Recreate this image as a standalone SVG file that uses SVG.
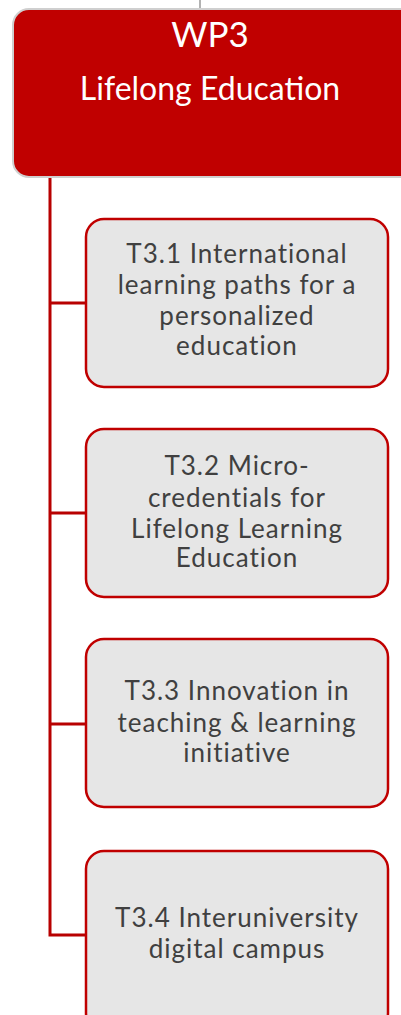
<svg xmlns="http://www.w3.org/2000/svg" width="401" height="1015" viewBox="0 0 401 1015">
<style>
.task rect{fill:#e6e6e6;stroke:#c00000;stroke-width:2.5}
.task text{font-family:Lato,"Open Sans",sans-serif;font-size:26px;letter-spacing:1px;fill:#404040;text-anchor:middle}
.conn{stroke:#b80000;stroke-width:3;fill:none}
.hdr text{font-family:Lato,"Open Sans",sans-serif;fill:#ffffff;text-anchor:middle}
</style>
<rect width="401" height="1015" fill="#ffffff"/>
<g id="connectors">
<line x1="200" y1="0" x2="200" y2="10" stroke="#999" stroke-width="1.5"/>
<polyline class="conn" points="50,177 50,935 86,935"/>
<line class="conn" x1="50" y1="303" x2="86" y2="303"/>
<line class="conn" x1="50" y1="513" x2="86" y2="513"/>
<line class="conn" x1="50" y1="724" x2="86" y2="724"/>
</g>
<g id="wp3" class="hdr">
<rect x="13" y="9" width="410" height="168" rx="16" fill="#c00000" stroke="#cfcfcf" stroke-width="2"/>
<text x="210" y="47" font-size="35">WP3</text>
<text x="210" y="100" font-size="32">Lifelong Education</text>
</g>
<g id="t31" class="task">
<rect x="86" y="219" width="302" height="168" rx="18"/>
<text x="237" y="263">T3.1 International</text>
<text x="237" y="294">learning paths for a</text>
<text x="237" y="325">personalized</text>
<text x="237" y="355">education</text>
</g>
<g id="t32" class="task">
<rect x="86" y="429" width="302" height="168" rx="18"/>
<text x="237" y="475">T3.2 Micro-</text>
<text x="237" y="507">credentials for</text>
<text x="237" y="538">Lifelong Learning</text>
<text x="237" y="567">Education</text>
</g>
<g id="t33" class="task">
<rect x="86" y="639" width="302" height="168" rx="18"/>
<text x="237" y="700">T3.3 Innovation in</text>
<text x="237" y="732">teaching &amp; learning</text>
<text x="237" y="762">initiative</text>
</g>
<g id="t34" class="task">
<rect x="86" y="851" width="302" height="180" rx="18"/>
<text x="237" y="927">T3.4 Interuniversity</text>
<text x="237" y="958">digital campus</text>
</g>
</svg>
